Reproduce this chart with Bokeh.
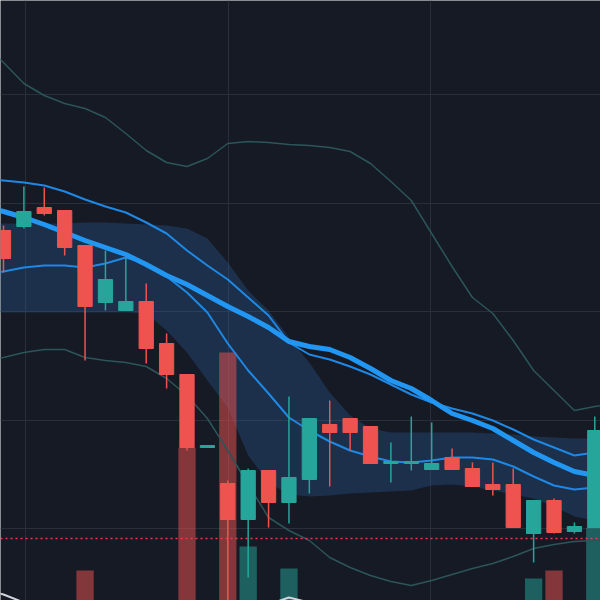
import numpy as np
from bokeh.plotting import figure
from bokeh.models import Range1d, FixedTicker, Grid, ColumnDataSource, Span
from bokeh.embed import file_html
from bokeh.resources import INLINE

# ---- OHLC bars (30 sessions) ----
opens = [77.0, 77.4, 79.3, 79.0, 75.5, 69.8, 69.0, 69.9, 65.7, 62.6,
         55.3, 51.7, 48.1, 53.0, 49.8, 52.1, 57.6, 58.2, 57.4, 53.7,
         53.7, 53.1, 54.3, 53.2, 51.6, 51.6, 46.7, 50.0, 46.9, 47.3]
highs = [77.5, 81.4, 81.3, 79.0, 75.5, 75.0, 74.3, 71.7, 66.7, 62.6,
         55.5, 52.0, 53.2, 53.0, 60.4, 58.2, 60.0, 58.2, 57.4, 55.8,
         58.4, 57.8, 55.2, 53.8, 53.8, 53.2, 50.0, 50.2, 47.8, 58.4]
lows = [72.8, 77.2, 78.5, 74.5, 64.0, 69.0, 69.0, 63.7, 61.2, 55.0,
        55.3, 38.5, 42.3, 47.3, 47.7, 50.7, 51.4, 55.0, 53.7, 51.8,
        53.0, 53.1, 53.1, 51.4, 50.5, 47.3, 43.8, 46.7, 46.7, 47.3]
closes = [74.2, 78.9, 78.7, 75.3, 69.4, 72.1, 69.9, 65.2, 62.6, 55.3,
          55.5, 48.1, 53.0, 49.8, 52.3, 58.2, 56.8, 56.8, 53.7, 53.9,
          53.9, 53.7, 53.1, 51.4, 51.1, 47.3, 50.0, 46.8, 47.4, 57.0]
volumes = [260, 310, 220, 340, 700, 280, 240, 360, 380, 1930,
           300, 2880, 940, 330, 720, 350, 260, 230, 310, 200,
           180, 190, 170, 240, 210, 370, 620, 700, 150, 1130]

# ---- indicator series, one value per bar from index -1 to 30 ----
ema_slow = [79.4, 78.9, 78.3, 77.6, 76.8, 76.0, 75.3, 74.6, 73.6, 72.5,
            71.6, 70.5, 69.4, 68.4, 67.3, 65.9, 65.4, 65.1, 64.3, 63.2,
            62.0, 61.2, 60.0, 58.7, 58.0, 57.2, 56.0, 54.8, 53.8, 52.9,
            52.5, 52.5]
ema_fast = [82.2, 82.0, 81.8, 81.5, 80.9, 80.1, 79.4, 78.8, 77.8, 76.7,
            75.0, 73.5, 72.1, 70.3, 68.5, 65.8, 64.6, 64.1, 63.4, 62.6,
            61.6, 60.6, 59.8, 59.2, 58.7, 58.0, 57.1, 56.1, 55.3, 54.5,
            54.8, 55.0]
ema_low = [72.6, 72.9, 73.3, 73.5, 73.5, 73.3, 73.7, 74.3, 73.7, 72.4,
           70.8, 68.8, 65.7, 63.0, 60.7, 58.3, 57.0, 55.9, 55.0, 54.4,
           53.9, 53.8, 54.0, 54.3, 54.3, 54.1, 53.4, 52.4, 51.5, 51.1,
           51.3, 51.4]
bb_upper = [95.7, 93.8, 91.7, 90.5, 89.7, 89.2, 88.3, 86.7, 85.0, 83.8,
            83.4, 84.2, 85.7, 85.9, 85.8, 85.6, 85.5, 85.3, 84.9, 83.7,
            81.9, 80.0, 76.7, 73.4, 70.3, 68.7, 66.0, 63.0, 61.0, 59.0,
            59.4, 59.7]
bb_lower = [64.0, 64.3, 64.8, 65.1, 65.1, 64.3, 64.0, 63.8, 63.4, 62.2,
            60.5, 58.2, 55.0, 51.6, 48.3, 47.0, 46.0, 44.3, 43.3, 42.5,
            41.9, 41.5, 42.0, 42.6, 43.2, 43.7, 44.4, 45.2, 45.6, 45.9,
            46.0, 46.0]
cloud_top = [77.7, 77.7, 77.7, 77.7, 77.7, 77.8, 77.8, 77.7, 77.6, 77.5,
             77.2, 76.2, 73.8, 71.0, 69.0, 66.3, 63.8, 60.8, 58.5, 57.2,
             56.8, 56.8, 56.8, 56.8, 56.8, 56.7, 56.6, 56.4, 56.3, 56.2,
             56.2, 56.2]
cloud_bottom = [68.8, 68.8, 68.8, 68.8, 68.8, 68.8, 68.8, 68.8, 68.7, 67.0,
                64.8, 62.0, 59.3, 54.5, 51.8, 50.6, 50.4, 50.5, 50.7, 50.8,
                50.9, 51.0, 51.5, 51.6, 51.4, 51.0, 50.6, 50.2, 49.4, 48.4,
                48.0, 47.8]
osc_line = [41.2, 40.6, 39.8, 38.8, 37.5, 37.5, 37.5, 37.5, 37.5, 37.5,
            37.5, 37.5, 37.5, 37.5, 39.6, 40.3, 39.8, 37.5, 37.5, 37.5,
            37.5, 37.5, 37.5, 37.5, 37.5, 37.5, 37.5, 37.5, 37.5, 37.5,
            37.5, 37.5]
last_price_level = 46.2

price_grid = [90.6, 79.75, 68.9, 58.05, 47.2]
time_grid = [1.08, 11.03, 20.96]

UP = "#26a69a"
DOWN = "#ef5350"
BG = "#161a25"

bars = np.arange(len(opens))
ind_x = np.arange(-1, len(ema_slow) - 1)

o = np.array(opens)
c = np.array(closes)
is_up = c >= o
colors = [UP if u else DOWN for u in is_up]

src = ColumnDataSource(dict(
    x=bars, o=o, h=highs, l=lows, c=c,
    top=np.maximum(o, c), bottom=np.minimum(o, c),
    color=colors, vol=volumes,
))

p = figure(width=600, height=600, output_backend="svg", toolbar_location=None,
           x_axis_location=None, y_axis_location=None,
           x_range=Range1d(-0.147, 29.28), y_range=Range1d(40.0, 100.0),
           min_border=0, outline_line_color=None)
p.background_fill_color = BG
p.border_fill_color = BG
p.extra_y_ranges = {"vol": Range1d(400, 6400)}

# replace default grids with fixed session/price grid lines
p.center = [r for r in p.center if not isinstance(r, Grid)]
p.add_layout(Grid(dimension=0, ticker=FixedTicker(ticks=time_grid),
                  grid_line_color="#2a2e3a", grid_line_width=1))
p.add_layout(Grid(dimension=1, ticker=FixedTicker(ticks=price_grid),
                  grid_line_color="#2a2e3a", grid_line_width=1))

# shaded cloud
p.varea(x=ind_x, y1=cloud_bottom, y2=cloud_top,
        fill_color="#2a5c9a", fill_alpha=0.32)

# volume histogram
p.vbar(x="x", width=0.85, top="vol", bottom=0, source=src, y_range_name="vol",
       fill_color="color", fill_alpha=0.5, line_color=None)

# envelope bands
p.line(ind_x, bb_upper, line_color="#2b5559", line_width=1.5)
p.line(ind_x, bb_lower, line_color="#2b5559", line_width=1.5)

# moving averages
p.line(ind_x, ema_low, line_color="#1e88e5", line_width=2)
p.line(ind_x, ema_fast, line_color="#1e88e5", line_width=2)
p.line(ind_x, ema_slow, line_color="#2196f3", line_width=5, line_join="round")

# lower oscillator peeking in at the bottom
p.line(ind_x, osc_line, line_color="#d1d4dc", line_width=2)

# last price marker
p.add_layout(Span(location=last_price_level, dimension="width",
                  line_color="#f23645", line_dash="2 3", line_width=1.5))

# candles
p.segment(x0="x", y0="l", x1="x", y1="h", source=src,
          line_color="color", line_width=1.5)
p.vbar(x="x", width=0.7, top="top", bottom="bottom", source=src,
       fill_color="color", line_color="color", line_width=1)

open("out.html", "w").write(file_html(p, INLINE))
